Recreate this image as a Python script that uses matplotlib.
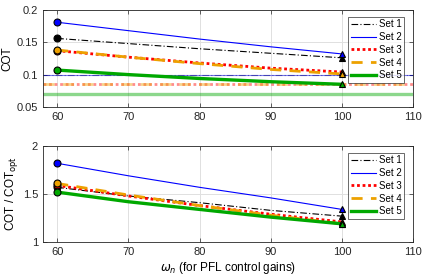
import matplotlib.pyplot as plt

omega = [60, 70, 80, 90, 100]
names = ["Set 1", "Set 2", "Set 3", "Set 4", "Set 5"]

cot_set1 = [0.156, 0.148, 0.140, 0.133, 0.126]
cot_set2 = [0.181, 0.168, 0.155, 0.143, 0.132]
cot_set3 = [0.137, 0.127, 0.118, 0.110, 0.104]
cot_set4 = [0.138, 0.127, 0.117, 0.108, 0.101]
cot_set5 = [0.107, 0.100, 0.094, 0.089, 0.085]
cot_opt = [0.0995, 0.0995, 0.086, 0.085, 0.070]

ratio_set1 = [1.57, 1.48, 1.41, 1.33, 1.27]
ratio_set2 = [1.82, 1.69, 1.57, 1.46, 1.34]
ratio_set3 = [1.59, 1.48, 1.38, 1.29, 1.21]
ratio_set4 = [1.61, 1.49, 1.38, 1.28, 1.19]
ratio_set5 = [1.52, 1.42, 1.34, 1.26, 1.19]

cots = [cot_set1, cot_set2, cot_set3, cot_set4, cot_set5]
ratios = [ratio_set1, ratio_set2, ratio_set3, ratio_set4, ratio_set5]

colors = ["black", "#0000ff", "#ff0000", "#eda100", "#00a800"]
styles = [(0, (6, 2, 1, 2)), "-", (0, (1, 1)), (0, (4, 3)), "-"]
widths = [0.8, 0.8, 2.0, 2.0, 2.4]

plt.rcParams['font.family'] = ['Liberation Sans', 'DejaVu Sans']

fig = plt.figure(figsize=(4.29, 2.77), dpi=100)
ax1 = fig.add_axes([0.100, 0.614, 0.863, 0.350])
ax2 = fig.add_axes([0.100, 0.126, 0.863, 0.347])

def style_axes(ax):
    ax.set_xlim(58, 110)
    ax.set_xticks([60, 70, 80, 90, 100, 110])
    ax.grid(True, color='#e0e0e0', linewidth=0.7)
    ax.set_axisbelow(True)
    ax.tick_params(direction='in', length=3, colors='#262626', labelsize=8,
                   top=True, right=True, width=0.5)
    for s in ax.spines.values():
        s.set_color('#262626')
        s.set_linewidth(0.6)

# faint lines for the optimal COT of each set
for i in range(5):
    ax1.axhline(cot_opt[i], color=colors[i], linestyle=styles[i],
                linewidth=widths[i], alpha=0.45)

for i in range(5):
    ax1.plot(omega, cots[i], color=colors[i], linestyle=styles[i],
             linewidth=widths[i], label=names[i])
for i in range(5):
    ax1.plot(omega[0], cots[i][0], 'o', color=colors[i], mec='black',
             ms=5, mew=0.8)
    ax1.plot(omega[-1], cots[i][-1], '^', color=colors[i], mec='black',
             ms=5, mew=0.8)

for i in range(5):
    ax2.plot(omega, ratios[i], color=colors[i], linestyle=styles[i],
             linewidth=widths[i], label=names[i])
for i in range(5):
    ax2.plot(omega[0], ratios[i][0], 'o', color=colors[i], mec='black',
             ms=5, mew=0.8)
    ax2.plot(omega[-1], ratios[i][-1], '^', color=colors[i], mec='black',
             ms=5, mew=0.8)

style_axes(ax1)
ax1.set_ylim(0.05, 0.2)
ax1.set_yticks([0.05, 0.1, 0.15, 0.2])
ax1.set_yticklabels(['0.05', '0.1', '0.15', '0.2'])
ax1.set_ylabel('COT', fontsize=8.5, labelpad=2)

style_axes(ax2)
ax2.set_ylim(1, 2)
ax2.set_yticks([1, 1.5, 2])
ax2.set_yticklabels(['1', '1.5', '2'])
ax2.set_ylabel('COT / COT$_{\\mathrm{opt}}$', fontsize=8.5, labelpad=2)
ax2.set_xlabel('$\\omega_n$ (for PFL control gains)', fontsize=8.5, labelpad=2)

for ax, top in ((ax1, 0.928), (ax2, 0.927)):
    leg = ax.legend(loc='upper right', bbox_to_anchor=(0.976, top),
                    fontsize=7, frameon=True, fancybox=False,
                    handlelength=2.6, handletextpad=0.3, borderpad=0.25,
                    labelspacing=0.28, borderaxespad=0.0)
    leg.get_frame().set_edgecolor('#262626')
    leg.get_frame().set_linewidth(0.6)

plt.savefig('out.png', dpi=100)
